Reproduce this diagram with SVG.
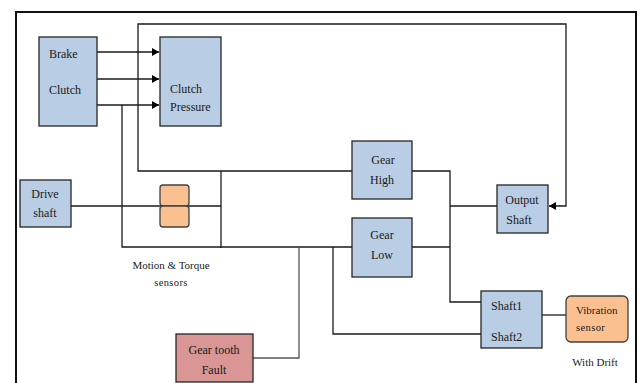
<svg xmlns="http://www.w3.org/2000/svg" width="641" height="383" viewBox="0 0 641 383">
<defs>
<style>
.blue{fill:#b9cde5;stroke:#262626;stroke-width:1.3}
.orange{fill:#fac090;stroke:#404040;stroke-width:1.3}
.pink{fill:#d99694;stroke:#262626;stroke-width:1.3}
.ln{fill:none;stroke:#1a1a1a;stroke-width:1.3}
.gl{fill:none;stroke:#555;stroke-width:1.3}
text{font-family:"Liberation Serif","Times New Roman",serif;font-size:12px;fill:#1a1a1a}
.sm{font-size:10.5px;letter-spacing:0.4px}
.c{text-anchor:middle}
</style>
<marker id="ah" markerWidth="8" markerHeight="8" refX="7" refY="4" orient="auto" markerUnits="userSpaceOnUse">
<path d="M0,0 L7,4 L0,8 Z" fill="#000"/>
</marker>
</defs>
<rect width="641" height="383" fill="#fff"/>
<path d="M16,383 V12 H636 V383" fill="none" stroke="#111" stroke-width="2"/>
<g id="connectors">
<line class="ln" x1="97" y1="52" x2="159" y2="52" marker-end="url(#ah)"/>
<line class="ln" x1="97" y1="79" x2="159" y2="79" marker-end="url(#ah)"/>
<line class="ln" x1="97" y1="105" x2="159" y2="105" marker-end="url(#ah)"/>
<path class="ln" d="M352,171 H138 V24 H566 V206 H549" marker-end="url(#ah)"/>
<path class="ln" d="M122,105 V247 H352"/>
<path class="ln" d="M221,171 V248"/>
<path class="ln" d="M71,206 H221"/>
<path class="gl" d="M253,358 H299 V247"/>
<path class="ln" d="M412,171 H450 V302 H481"/>
<path class="ln" d="M412,247 H450"/>
<path class="ln" d="M450,206 H497"/>
<path class="ln" d="M333,247 V334 H481"/>
<path class="ln" d="M542,315 H566"/>
</g>
<g id="brake-clutch">
<rect class="blue" x="39" y="37" width="58" height="89"/>
<text x="49" y="58">Brake</text>
<text x="49" y="94">Clutch</text>
</g>
<g id="clutch-pressure">
<rect class="blue" x="160" y="37" width="61" height="89"/>
<text x="170" y="93">Clutch</text>
<text x="170" y="111">Pressure</text>
</g>
<g id="drive-shaft">
<rect class="blue" x="20" y="180" width="51" height="47"/>
<text class="c" x="45" y="198">Drive</text>
<text class="c" x="45" y="217">shaft</text>
</g>
<g id="motion-torque-sensors">
<rect class="orange" x="160" y="185" width="29" height="21" rx="3"/>
<rect class="orange" x="160" y="206" width="29" height="21" rx="3"/>
<text class="c" x="171" y="269" style="font-size:11px">Motion &amp; Torque</text>
<text class="c sm" x="171" y="286">sensors</text>
</g>
<g id="gear-high">
<rect class="blue" x="352" y="141" width="60" height="58"/>
<text class="c" x="383" y="164">Gear</text>
<text class="c" x="382" y="184">High</text>
</g>
<g id="gear-low">
<rect class="blue" x="352" y="218" width="60" height="59"/>
<text class="c" x="382" y="239">Gear</text>
<text class="c" x="382" y="259">Low</text>
</g>
<g id="output-shaft">
<rect class="blue" x="497" y="185" width="51" height="48"/>
<text class="c" x="522" y="204">Output</text>
<text class="c" x="519" y="224">Shaft</text>
</g>
<g id="gear-tooth-fault">
<rect class="pink" x="176" y="334" width="77" height="48"/>
<text class="c" x="214" y="354">Gear tooth</text>
<text class="c" x="214" y="374">Fault</text>
</g>
<g id="shaft">
<rect class="blue" x="481" y="291" width="61" height="57"/>
<text x="491" y="310">Shaft1</text>
<text x="491" y="341">Shaft2</text>
</g>
<g id="vibration-sensor">
<rect class="orange" x="566" y="296" width="62" height="46" rx="5"/>
<text x="576" y="314" style="font-size:11px">Vibration</text>
<text class="sm" x="576" y="331">sensor</text>
<text class="c" x="595" y="366" style="font-size:11px">With Drift</text>
</g>
</svg>
